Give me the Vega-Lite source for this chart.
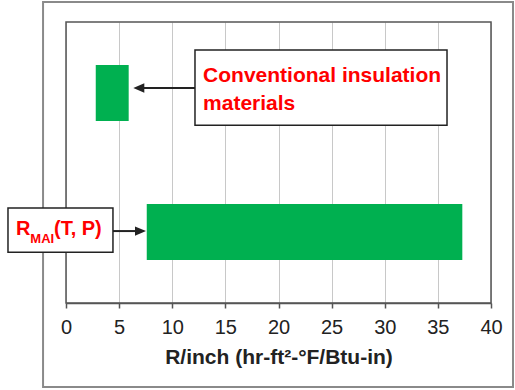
{
  "$schema": "https://vega.github.io/schema/vega-lite/v6.json",
  "width": 425,
  "height": 281,
  "autosize": {"type": "none"},
  "padding": {"left": 66, "top": 22, "right": 24, "bottom": 87},
  "background": "white",
  "config": {
    "view": {"stroke": null},
    "font": "Liberation Sans",
    "axisX": {
      "grid": true,
      "gridColor": "#c8c8c8",
      "gridWidth": 1,
      "domainColor": "#555555",
      "domainWidth": 1.5,
      "tickColor": "#555555",
      "tickWidth": 1.5,
      "tickSize": 5,
      "labelFont": "Liberation Sans",
      "labelFontSize": 20,
      "labelColor": "#222222",
      "labelPadding": 9,
      "labelFlush": false,
      "titleFont": "Liberation Sans",
      "titleFontSize": 21,
      "titleFontWeight": "bold",
      "titleColor": "#222222",
      "titlePadding": 9
    }
  },
  "encoding": {
    "x": {
      "field": "x",
      "type": "quantitative",
      "scale": {"domain": [0, 40], "nice": false},
      "axis": {"values": [0, 5, 10, 15, 20, 25, 30, 35, 40], "title": "R/inch (hr-ft²-°F/Btu-in)"}
    },
    "y": {
      "field": "y",
      "type": "quantitative",
      "scale": {"domain": [0, 100], "nice": false},
      "axis": null
    }
  },
  "layer": [
    {
      "data": {"values": [{"x": -2.16, "x2": 42.07, "y": -29.9, "y2": 107.1}]},
      "mark": {"type": "rect", "fill": null, "filled": false, "stroke": "#8a8a8a", "strokeWidth": 2},
      "encoding": {"x2": {"field": "x2"}, "y2": {"field": "y2"}}
    },
    {
      "data": {"values": [{"x": 0, "x2": 40, "y": 0, "y2": 100}]},
      "mark": {"type": "rect", "fill": null, "filled": false, "stroke": "#555555", "strokeWidth": 1.5},
      "encoding": {"x2": {"field": "x2"}, "y2": {"field": "y2"}}
    },
    {
      "data": {"values": [
        {"item": "Conventional insulation materials", "x": 2.8, "x2": 5.9, "y": 64.8, "y2": 84.7},
        {"item": "RMAI(T, P)", "x": 7.6, "x2": 37.3, "y": 15.3, "y2": 35.2}
      ]},
      "mark": {"type": "rect", "fill": "#00b050"},
      "encoding": {"x2": {"field": "x2"}, "y2": {"field": "y2"}}
    },
    {
      "data": {"values": [
        {"x": 6.9, "x2": 12.14, "y": 76.5},
        {"x": 4.42, "x2": 6.95, "y": 25.6}
      ]},
      "mark": {"type": "rule", "color": "#222222", "strokeWidth": 2},
      "encoding": {"x2": {"field": "x2"}}
    },
    {
      "data": {"values": [{"x": 6.85, "y": 76.5}]},
      "mark": {"type": "point", "shape": "M -1 0 L 1 -0.85 L 1 0.85 Z", "filled": true, "color": "#222222", "size": 121, "opacity": 1},
      "encoding": {}
    },
    {
      "data": {"values": [{"x": 7.01, "y": 25.6}]},
      "mark": {"type": "point", "shape": "M 1 0 L -1 -0.85 L -1 0.85 Z", "filled": true, "color": "#222222", "size": 121, "opacity": 1},
      "encoding": {}
    },
    {
      "data": {"values": [
        {"x": 12.14, "x2": 35.86, "y": 63.3, "y2": 90.0},
        {"x": -5.46, "x2": 4.42, "y": 18.1, "y2": 33.8}
      ]},
      "mark": {"type": "rect", "fill": "white", "stroke": "#222222", "strokeWidth": 1.5},
      "encoding": {"x2": {"field": "x2"}, "y2": {"field": "y2"}}
    },
    {
      "data": {"values": [
        {"x": 12.9, "y": 78.6, "t": "Conventional insulation"},
        {"x": 12.9, "y": 68.7, "t": "materials"}
      ]},
      "mark": {"type": "text", "align": "left", "baseline": "alphabetic", "font": "Liberation Sans", "fontSize": 21, "fontWeight": "bold", "color": "#ff0000"},
      "encoding": {"text": {"field": "t"}}
    },
    {
      "data": {"values": [{"x": -4.71, "y": 24.2, "t": "R"}, {"x": -1.13, "y": 24.2, "t": "(T, P)"}]},
      "mark": {"type": "text", "align": "left", "baseline": "alphabetic", "font": "Liberation Sans", "fontSize": 20, "fontWeight": "bold", "color": "#ff0000"},
      "encoding": {"text": {"field": "t"}}
    },
    {
      "data": {"values": [{"x": -3.36, "y": 21.35, "t": "MAI"}]},
      "mark": {"type": "text", "align": "left", "baseline": "alphabetic", "font": "Liberation Sans", "fontSize": 13, "fontWeight": "bold", "color": "#ff0000"},
      "encoding": {"text": {"field": "t"}}
    }
  ]
}
